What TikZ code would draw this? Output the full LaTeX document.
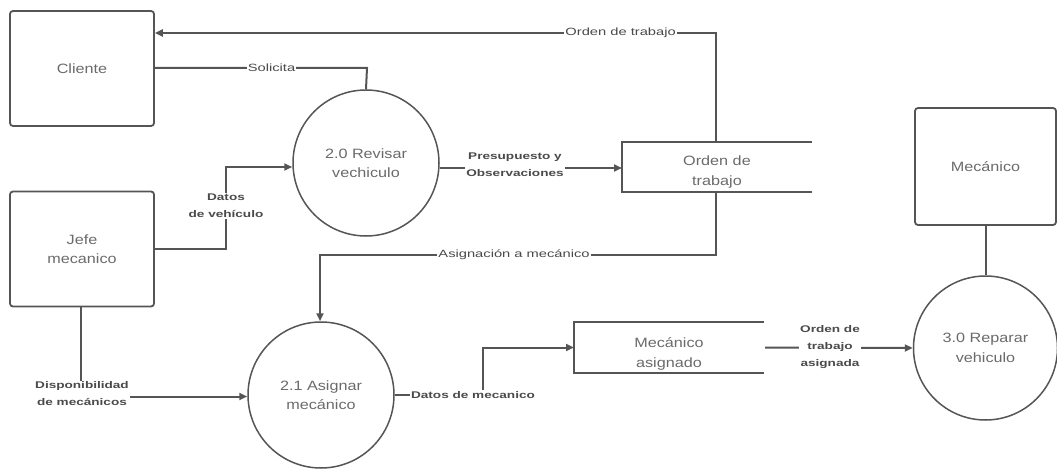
\documentclass[tikz,border=0pt]{standalone}
\usepackage{fontspec}
\setmainfont{Liberation Sans}[FakeStretch=1.2]
\newfontfamily\flowfont{Liberation Sans}[FakeStretch=1.4]
\usetikzlibrary{arrows.meta}
\definecolor{ink}{HTML}{555555}
\definecolor{txt}{HTML}{6A6A6A}
\definecolor{lbltxt}{HTML}{4A4A4A}
\begin{document}
\begin{tikzpicture}[x=1pt,y=-1pt,
  every node/.style={font=\fontsize{13.5}{19.5}\selectfont, text=txt, align=center},
  entity/.style={draw=ink, line width=1.8pt, rounded corners=3pt, minimum width=144pt, minimum height=115pt, inner sep=0pt},
  process/.style={draw=ink, line width=1.5pt, circle, minimum size=146pt, inner sep=0pt},
  store/.style={inner sep=0pt},
  flow/.style={draw=ink, line width=2pt, -{Triangle[length=8pt,width=7pt]}},
  link/.style={draw=ink, line width=2pt},
  lbl/.style={fill=white, inner sep=1pt, font=\flowfont\fontsize{9.7}{17}\selectfont\bfseries, text=lbltxt},
  lblr/.style={fill=white, inner sep=1pt, font=\flowfont\fontsize{10.5}{12}\selectfont, text=lbltxt},
  storeline/.style={draw=ink, line width=1.8pt}
]
\useasboundingbox (0,0) rectangle (1057,473);

% external entities
\node[entity] (cli) at (82,68.5) {Cliente};
\node[entity] (jefe) at (82,249) {Jefe\\mecanico};
\node[entity, minimum width=141pt, minimum height=117pt] (mec) at (985.5,166.5) {Mecánico};

% processes
\node[process] (p20) at (366,163) {2.0 Revisar\\vechiculo};
\node[process] (p21) at (321,395) {2.1 Asignar\\mecánico};
\node[process, minimum size=144pt] (p30) at (985.5,348) {3.0 Reparar\\vehiculo};

% data stores (open on the right)
\coordinate (otNW) at (622,142);
\coordinate (otSW) at (622,192);
\draw[storeline] (812,142) -- (otNW) -- (otSW) -- (812,192);
\node[store] (ot) at (717,172) {Orden de\\trabajo};
\coordinate (otL) at (622,167);
\coordinate (otT) at (716,142);
\coordinate (otB) at (716,192);

\coordinate (maNW) at (574,322);
\coordinate (maSW) at (574,373);
\draw[storeline] (764,322) -- (maNW) -- (maSW) -- (764,373);
\node[store] (ma) at (669,354) {Mecánico\\asignado};
\coordinate (maL) at (574,347.5);
\coordinate (maR) at (765,347.5);

% data flows
\draw[flow] (otT) -- (716,33) -- node[lblr, pos=0.17] {Orden de trabajo} (cli.east |- 0,33);
\draw[link] (cli.east |- 0,68) -- node[lblr, pos=0.55] {Solicita} (367,68) -- (p20.north);
\draw[flow] (jefe.east |- 0,249) -- (226,249) -- (226,167) -- (p20.west |- 0,167);
\node[lbl] at (226,206) {Datos\\de vehículo};
\draw[flow] (p20.east |- 0,168) -- (otL |- 0,168);
\node[lbl] at (515,165) {Presupuesto y\\Observaciones};
\draw[flow] (otB) -- (716,255) -- node[lblr, pos=0.51] {Asignación a mecánico} (320,255) -- (p21.north -| 320,0);
\draw[flow] (jefe.south -| 81,0) -- (81,396.5) -- (p21.west |- 0,396.5);
\node[lbl] at (82,394) {Disponibilidad\\de mecánicos};
\draw[flow] (p21.east |- 0,395) -- (483,395) -- (483,347.5) -- (maL);
\node[lbl] at (473,395) {Datos de mecanico};
\draw[flow] (maR) -- (p30.west);
\node[lbl] at (830,347) {Orden de\\trabajo\\asignada};
\draw[link] (mec.south) -- (p30.north);
\end{tikzpicture}
\end{document}
